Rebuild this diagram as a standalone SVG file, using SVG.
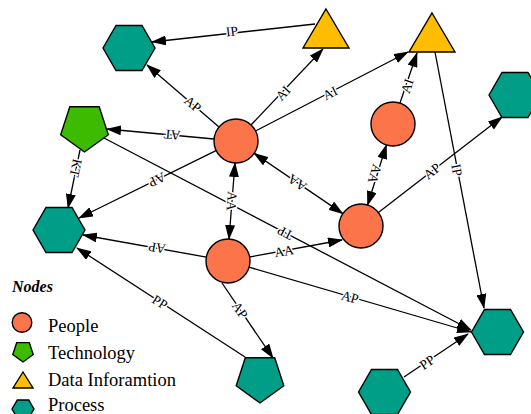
<svg xmlns="http://www.w3.org/2000/svg" width="531" height="414" viewBox="0 0 531 414">
<style>
.e{fill:none;stroke:#000;stroke-width:1.3}
.a{marker-end:url(#ah)}
.b{marker-end:url(#ah);marker-start:url(#ahs)}
.lbl{font-family:"Liberation Serif",serif;font-size:13.5px;fill:#000;stroke:#fff;stroke-width:3;paint-order:stroke;stroke-linejoin:round;text-anchor:middle}
.n{stroke:#000;stroke-width:1.4}
.p{fill:#FB744A}
.t{fill:#3DBB00}
.d{fill:#FFBD00}
.pr{fill:#009E86}
.lg{font-family:"Liberation Serif",serif;font-size:18.5px;fill:#000}
.hd{font-family:"Liberation Serif",serif;font-size:16px;font-weight:bold;font-style:italic;fill:#000}
</style>
<defs>
<marker id="ah" markerUnits="userSpaceOnUse" markerWidth="15" markerHeight="10" viewBox="0 0 15 10" refX="14" refY="5" orient="auto"><path d="M0,0 L15,5 L0,10 z" fill="#000"/></marker>
<marker id="ahs" markerUnits="userSpaceOnUse" markerWidth="15" markerHeight="10" viewBox="0 0 15 10" refX="14" refY="5" orient="auto-start-reverse"><path d="M0,0 L15,5 L0,10 z" fill="#000"/></marker>
</defs>
<rect width="531" height="414" fill="#fff"/>
<g id="connectors">
<path class="e a" d="M315,24 L152,42"/>
<path class="e a" d="M219,127 L147,65"/>
<path class="e a" d="M251,125 L323,49"/>
<path class="e a" d="M255.5,131 L408,52"/>
<path class="e a" d="M214,139 L107,129"/>
<path class="e a" d="M216,150.7 L79,218"/>
<path class="e b" d="M235,163 L229,239"/>
<path class="e b" d="M254.2,153.4 L342.8,213.6"/>
<path class="e b" d="M386.4,145 L367.6,205"/>
<path class="e a" d="M400,103 L417,53"/>
<path class="e a" d="M378.4,212.5 L502,117"/>
<path class="e a" d="M435,52 L484,308"/>
<path class="e a" d="M104,138 L471,330"/>
<path class="e a" d="M80,150 L68,208"/>
<path class="e a" d="M206.3,257.1 L83,235"/>
<path class="e a" d="M249.6,257 L342,240"/>
<path class="e a" d="M249.1,267.2 L471,332"/>
<path class="e a" d="M222,283 L273,358"/>
<path class="e a" d="M245,357 L77,248"/>
<path class="e a" d="M404,377 L468,334"/>
<g id="edge-labels">
<text class="lbl" transform="translate(232,31) rotate(-7)" dy="0.35em">IP</text>
<text class="lbl" transform="translate(193,104) rotate(40)" dy="0.35em">AP</text>
<text class="lbl" transform="translate(283,93) rotate(-47)" dy="0.35em">AI</text>
<text class="lbl" transform="translate(330,93) rotate(-27)" dy="0.35em">AI</text>
<text class="lbl" transform="translate(172,135) rotate(185)" dy="0.35em">AT</text>
<text class="lbl" transform="translate(157,180) rotate(154)" dy="0.35em">AP</text>
<text class="lbl" transform="translate(232,201) rotate(94)" dy="0.35em">AA</text>
<text class="lbl" transform="translate(297,183) rotate(214)" dy="0.35em">AA</text>
<text class="lbl" transform="translate(375,174) rotate(107)" dy="0.35em">AA</text>
<text class="lbl" transform="translate(407,86) rotate(-71)" dy="0.35em">AI</text>
<text class="lbl" transform="translate(432,171) rotate(-38)" dy="0.35em">AP</text>
<text class="lbl" transform="translate(457,170) rotate(79)" dy="0.35em">IP</text>
<text class="lbl" transform="translate(285,233) rotate(208)" dy="0.35em">TP</text>
<text class="lbl" transform="translate(76,168) rotate(102)" dy="0.35em">KT</text>
<text class="lbl" transform="translate(157,248) rotate(190)" dy="0.35em">AP</text>
<text class="lbl" transform="translate(284,251) rotate(-10)" dy="0.35em">AA</text>
<text class="lbl" transform="translate(350,297) rotate(16)" dy="0.35em">AP</text>
<text class="lbl" transform="translate(240,310) rotate(56)" dy="0.35em">AP</text>
<text class="lbl" transform="translate(160,302) rotate(33)" dy="0.35em">PP</text>
<text class="lbl" transform="translate(427,362) rotate(-34)" dy="0.35em">PP</text>
</g>
</g>
<g id="node-A"><circle class="n p" cx="236" cy="141" r="22"/></g>
<g id="node-D"><circle class="n p" cx="393" cy="124" r="22"/></g>
<g id="node-B"><circle class="n p" cx="361" cy="226" r="22"/></g>
<g id="node-C"><circle class="n p" cx="228" cy="261" r="22"/></g>
<g id="node-hexTL"><polygon class="n pr" points="103,48 116,25.5 142,25.5 155,48 142,70.5 116,70.5"/></g>
<g id="node-hexTR"><polygon class="n pr" points="489,95 502,72.5 528,72.5 541,95 528,117.5 502,117.5"/></g>
<g id="node-hexL"><polygon class="n pr" points="33,230 46,207.5 72,207.5 85,230 72,252.5 46,252.5"/></g>
<g id="node-hexBR"><polygon class="n pr" points="471.5,332 484.5,309.5 510.5,309.5 523.5,332 510.5,354.5 484.5,354.5"/></g>
<g id="node-hexB"><polygon class="n pr" points="358.5,392 371.5,369.5 397.5,369.5 410.5,392 397.5,414.5 371.5,414.5"/></g>
<g id="node-triTop"><polygon class="n d" points="326,9 349,48 303,48"/></g>
<g id="node-triR"><polygon class="n d" points="432,13 455,52 409,52"/></g>
<g id="node-pentG"><polygon class="n t" points="84.5,152 60.7,134.7 69.8,106.8 99.2,106.8 108.3,134.7"/></g>
<g id="node-pentT"><polygon class="n pr" points="260,403 236.2,385.7 245.3,357.8 274.7,357.8 283.8,385.7"/></g>
<g id="legend">
<text class="hd" x="12" y="292">Nodes</text>
<circle class="n p" cx="22" cy="322.5" r="9.8"/>
<text class="lg" x="48" y="332">People</text>
<polygon class="n t" points="23,362 12.8,354.6 16.7,342.6 29.3,342.6 33.2,354.6"/>
<text class="lg" x="48" y="359">Technology</text>
<polygon class="n d" points="23,372 33,388 13,388"/>
<text class="lg" x="48" y="386">Data Inforamtion</text>
<polygon class="n pr" points="12,409 17.3,400 28.7,400 34,409 28.7,418 17.3,418"/>
<text class="lg" x="48" y="411">Process</text>
</g>
</svg>
